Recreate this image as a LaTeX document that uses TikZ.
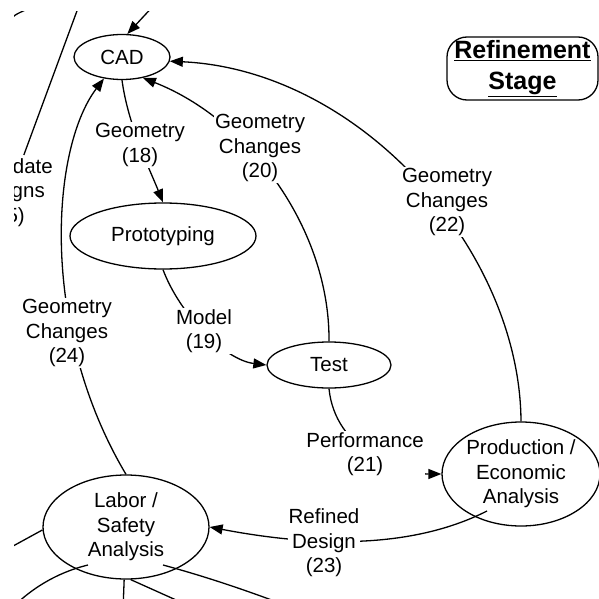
\documentclass[tikz,border=0pt]{standalone}
\usepackage{fontspec}
\setmainfont{Liberation Sans}
\usetikzlibrary{shapes.geometric,arrows.meta}

\begin{document}
\begin{tikzpicture}[x=1pt,y=-1pt,
  font=\fontsize{20.5}{24.5}\selectfont,
  stage/.style={ellipse,draw,line width=1.3pt,inner sep=0pt,align=center},
  lbl/.style={fill=white,inner sep=1pt,align=center},
  link/.style={line width=1.3pt},
  flow/.style={link,-{Triangle[length=13pt,width=10pt]}}]
  \useasboundingbox (0,0) rectangle (599,599);
  \clip (14,12) rectangle (599,599);

  % stages of the refinement loop
  \node[stage,minimum width=96,minimum height=45] (cad) at (122,57) {CAD};
  \node[stage,minimum width=186,minimum height=66] (proto) at (163,236) {Prototyping};
  \node[stage,minimum width=124,minimum height=46] (test) at (329,365) {Test};
  \node[stage,minimum width=158,minimum height=104] (prod) at (521,474) {Production /\\Economic\\Analysis};
  \node[stage,minimum width=166,minimum height=104] (labor) at (126,527) {Labor /\\Safety\\Analysis};

  \node[draw,line width=1.3pt,rounded corners=20pt,inner sep=0pt,minimum width=151,minimum height=63,
    align=center,font=\fontsize{25}{31}\selectfont\bfseries] (title) at (522.5,68.5)
    {\underline{Refinement}\\\underline{Stage}};

  % ends leaving the frame
  \coordinate (in1) at (157,2);
  \coordinate (up2) at (81,0);
  \coordinate (tl1) at (6,24);
  \coordinate (tl2) at (30,8);
  \coordinate (lo1) at (4,551);
  \coordinate (lo2) at (12,608);
  \coordinate (lo3) at (123,610);
  \coordinate (lo4) at (185,604);
  \coordinate (lo5) at (285,605);

  % connectors
  \draw[flow] (in1) -- (cad.77);
  \draw[link] (tl1) .. controls (14,15) .. (tl2);
  \draw[flow] (cad.south) .. controls (128,125) and (150,170) .. (proto.north);
  \draw[flow] (proto.south) .. controls (180,315) and (225,360) .. (test.west);
  \draw[flow] (test.north) .. controls (330,230) and (250,120) .. (cad.-45);
  \draw[flow] (prod.north) .. controls (520,250) and (360,70) .. (cad.-5);
  \draw[flow] (labor.north) .. controls (40,330) and (50,150) .. (cad.230);
  \draw[flow] (test.south) .. controls (335,450) and (400,474) .. (prod.west);
  \draw[flow] ([shift={(-34,37)}]prod.center) .. controls (420,545) and (330,550) .. (labor.east);

  \draw[link] (labor.182) -- (lo1);
  \draw[link] ([shift={(-38,38)}]labor.center) .. controls (55,573) and (30,590) .. (lo2);
  \draw[link] (labor.-92) -- (lo3);
  \draw[link] (labor.-85) -- (lo4);
  \draw[link] ([shift={(37,38)}]labor.center) .. controls (200,575) and (240,588) .. (lo5);

  % connector labels
  \node[lbl] (l18) at (140,145) {Geometry\\(18)};
  \node[lbl] (l19) at (204,331) {Model\\(19)};
  \node[lbl] (l20) at (260,148) {Geometry\\Changes\\(20)};
  \node[lbl] (l21) at (365,454) {Performance\\(21)};
  \node[lbl] (l22) at (447,202) {Geometry\\Changes\\(22)};
  \node[lbl] (l23) at (324,543) {Refined\\Design\\(23)};
  \node[lbl] (l24) at (67,333) {Geometry\\Changes\\(24)};

  % label cut by the left edge
  \node[inner sep=0pt,anchor=base east] (dsg1) at (53,173) {date};
  \node[inner sep=0pt,anchor=base east] (dsg2) at (45,197.5) {gns};
  \node[inner sep=0pt,anchor=base east] (dsg3) at (25,222) {5)};
  \draw[link] ([xshift=-9pt,yshift=3pt]dsg1.north) -- (up2);
\end{tikzpicture}
\end{document}
